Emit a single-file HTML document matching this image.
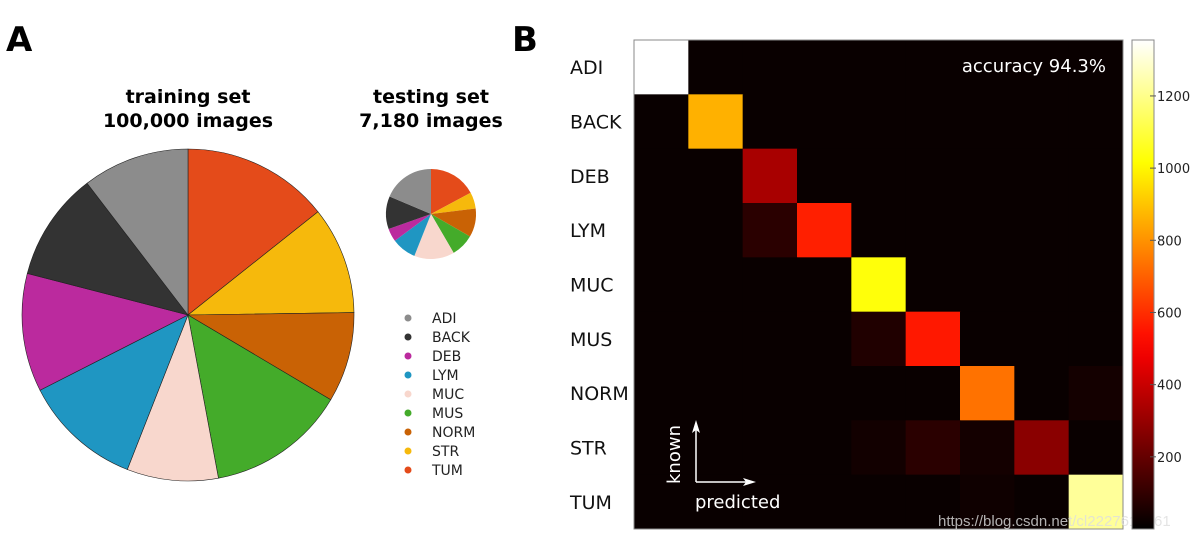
<!DOCTYPE html>
<html><head><meta charset="utf-8"><style>
body{margin:0;background:#fff;width:1193px;height:539px;overflow:hidden;font-family:"Liberation Sans","DejaVu Sans",sans-serif}
</style></head><body>
<svg id="fig" width="1193" height="539" xmlns="http://www.w3.org/2000/svg">
<text x="6" y="51" font-size="34" font-weight="bold" font-family="DejaVu Sans,sans-serif">A</text>
<text x="512" y="51" font-size="34" font-weight="bold" font-family="DejaVu Sans,sans-serif">B</text>
<g font-family="DejaVu Sans,sans-serif" font-weight="bold" font-size="19" text-anchor="middle">
<text x="188" y="103">training set</text>
<text x="188" y="127">100,000 images</text>
<text x="431" y="103">testing set</text>
<text x="431" y="127">7,180 images</text>
</g>
<g id="pies"></g><g id="legend"></g><g id="heat"></g><g id="cbar"></g>
</svg>
<script>
const classes=["ADI","BACK","DEB","LYM","MUC","MUS","NORM","STR","TUM"];
const colors=["#8c8c8c","#333333","#bb2a9e","#1f96c2","#f8d7cd","#44ab2a","#c96205","#f6b90c","#e44b1a"];
const trainCounts=[10407,10566,11512,11557,8896,13536,8763,10446,14317];
const testCounts=[1338,847,339,634,1035,592,741,421,1233];
// confusion matrix rows=known, cols=predicted
const confusion=[
[1360,18,18,18,18,18,18,18,18],
[18,860,18,18,18,18,18,18,18],
[18,18,335,18,18,18,18,18,18],
[18,18,84,570,18,18,18,18,18],
[18,18,18,18,1030,18,18,18,18],
[18,18,18,18,64,555,18,18,18],
[18,18,18,18,18,18,735,18,40],
[18,18,18,18,35,84,40,275,18],
[18,18,18,18,18,18,30,18,1220]];
const cbTicks=[200,400,600,800,1000,1200];
const cmax=1355;
const NS="http://www.w3.org/2000/svg";
function mk(t,a,p){const e=document.createElementNS(NS,t);for(const k in a)e.setAttribute(k,a[k]);p.appendChild(e);return e;}
function pie(cx,cy,r,vals,g,nm){
 const tot=vals.reduce((a,b)=>a+b,0);
 const order=[8,7,6,5,4,3,2,1,0];let a0=0;
 order.forEach(i=>{const a1=a0+vals[i]/tot*2*Math.PI;
  const x0=cx+r*Math.sin(a0),y0=cy-r*Math.cos(a0),x1=cx+r*Math.sin(a1),y1=cy-r*Math.cos(a1);
  const p=mk("path",{d:`M${cx},${cy}L${x0},${y0}A${r},${r} 0 ${a1-a0>Math.PI?1:0} 1 ${x1},${y1}Z`,fill:colors[i],stroke:nm==="train"?"#222":"none","stroke-width":0.6},g);
  
  
  a0=a1;});
}
const pg=document.getElementById("pies");
pie(188,315,166,trainCounts,pg,"train");
pie(431,214,45,testCounts,pg,"test");
const lg=document.getElementById("legend");
classes.forEach((c,i)=>{const y=318+i*19;
 const d=mk("circle",{cx:408,cy:y,r:3.5,fill:colors[i]},lg);
 
 
 const t=mk("text",{x:432,y:y+5,"font-size":14,"font-family":"DejaVu Sans,sans-serif",fill:"#222"},lg);t.textContent=c;
 
 });
function hot(v){const t=Math.max(0,Math.min(1,v/cmax));
 const r=Math.min(1,t/0.375),g=Math.max(0,Math.min(1,(t-0.375)/0.375)),b=Math.max(0,Math.min(1,(t-0.75)/0.25));
 return `rgb(${Math.round(r*255)},${Math.round(g*255)},${Math.round(b*255)})`;}
const hx=634,hy=40,hw=489,hh=489,cw=hw/9,ch=hh/9;
const hg=document.getElementById("heat");
confusion.forEach((row,i)=>row.forEach((v,j)=>{
 const c=mk("rect",{x:hx+j*cw,y:hy+i*ch,width:cw+0.5,height:ch+0.5,fill:hot(v)},hg);
 
 }));
mk("rect",{x:hx,y:hy,width:hw,height:hh,fill:"none",stroke:"#888","stroke-width":1},hg);
classes.forEach((c,i)=>{const t=mk("text",{x:570,y:hy+i*ch+ch/2+7,"font-size":19,"font-family":"DejaVu Sans,sans-serif",fill:"#111"},hg);t.textContent=c;
 
 });
let t=mk("text",{x:1106,y:72,"font-size":18,"text-anchor":"end","font-family":"DejaVu Sans,sans-serif",fill:"#fff"},hg);t.textContent="accuracy 94.3%";


mk("path",{d:"M696,482V424M696,482H750",stroke:"#fff","stroke-width":1.5,fill:"none"},hg);
mk("path",{d:"M696,420l-4,13l4,-3l4,3z",fill:"#fff"},hg);
mk("path",{d:"M756,482l-13,-4l3,4l-3,4z",fill:"#fff"},hg);
t=mk("text",{x:680,y:484,"font-size":18,fill:"#fff","font-family":"DejaVu Sans,sans-serif",transform:"rotate(-90 680 484)"},hg);t.textContent="known";


t=mk("text",{x:695,y:508,"font-size":18,fill:"#fff","font-family":"DejaVu Sans,sans-serif"},hg);t.textContent="predicted";


t=mk("text",{x:938,y:526,"font-size":15,fill:"#ddd","fill-opacity":0.8},hg);t.textContent="https://blog.csdn.net/cl2227619761";


const cg=document.getElementById("cbar");
const bx=1132,by=40,bw=22,bh=489;
const defs=mk("defs",{},cg);const gr=mk("linearGradient",{id:"hg",x1:0,y1:1,x2:0,y2:0},defs);
for(let k=0;k<=20;k++)mk("stop",{offset:k/20,"stop-color":hot(k/20*cmax)},gr);
const cb=mk("rect",{x:bx,y:by,width:bw,height:bh,fill:"url(#hg)",stroke:"#888"},cg);


function cy(v){return by+bh-v/cmax*bh;}
cbTicks.forEach(v=>{mk("line",{x1:bx+bw-4,x2:bx+bw+2,y1:cy(v),y2:cy(v),stroke:"#555"},cg);
 const tt=mk("text",{x:bx+bw+3,y:cy(v)+5,"font-size":13,"font-family":"DejaVu Sans,sans-serif",fill:"#222"},cg);tt.textContent=v;
 
 });
</script>
</body></html>
